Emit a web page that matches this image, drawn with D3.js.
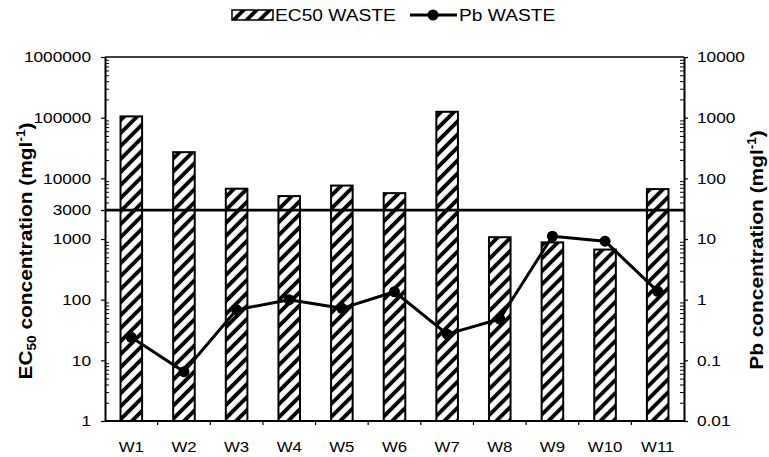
<!DOCTYPE html>
<html>
<head>
<meta charset="utf-8">
<script src="https://cdn.jsdelivr.net/npm/d3@7"></script>
<style>
  html, body { margin: 0; padding: 0; background: #fff; }
  svg { display: block; font-family: "Liberation Sans", Arial, sans-serif; }
  text { fill: #000; }
</style>
</head>
<body>
<svg id="chart" width="769" height="457"></svg>
<script>
// Samples and measured values
const categories = ["W1", "W2", "W3", "W4", "W5", "W6", "W7", "W8", "W9", "W10", "W11"];
const ec50Values = [105000, 27000, 6750, 5100, 7600, 5700, 125000, 1070, 880, 670, 6650]; // mg/l
const pbValues = [0.24, 0.065, 0.68, 1.0, 0.72, 1.35, 0.27, 0.48, 11.1, 9.2, 1.37];      // mg/l
const thresholdValue = 3000; // EC50 reference level

// Axis tick labels
const leftTicks = [1, 10, 100, 1000, 3000, 10000, 100000, 1000000];
const rightTicks = [0.01, 0.1, 1, 10, 100, 1000, 10000];

const FONT = '"Liberation Sans", Arial, sans-serif';
const svg = d3.select("#chart");
const W = 769, H = 457;
const margin = { top: 57, right: 85, bottom: 36, left: 105 };
const x0 = margin.left, x1 = W - margin.right;
const y0 = H - margin.bottom, y1 = margin.top;

const x = d3.scaleBand().domain(categories).range([x0, x1])
  .paddingInner(0.59).paddingOuter(0.295);
const yLeft = d3.scaleLog().domain([1, 1e6]).range([y0, y1]);
const yRight = d3.scaleLog().domain([0.01, 1e4]).range([y0, y1]);

// Widen text horizontally about its anchor point
function widen(sel, s) {
  sel.each(function () {
    const a = +this.getAttribute("x") || 0;
    d3.select(this).attr("transform", `translate(${a * (1 - s)},0) scale(${s},1)`);
  });
}

// Diagonal hatch fill for the EC50 bars
const defs = svg.append("defs");
const hatch = defs.append("pattern")
  .attr("id", "hatch")
  .attr("patternUnits", "userSpaceOnUse")
  .attr("width", 9.2).attr("height", 9.2)
  .attr("patternTransform", "rotate(45)");
hatch.append("rect").attr("width", 9.2).attr("height", 9.2).attr("fill", "#fff");
hatch.append("line")
  .attr("x1", 4.6).attr("y1", 0).attr("x2", 4.6).attr("y2", 9.2)
  .attr("stroke", "#000").attr("stroke-width", 3.9);

// Bars
svg.append("g").selectAll("rect")
  .data(categories.map((c, i) => ({ c, v: ec50Values[i] })))
  .join("rect")
  .attr("x", d => x(d.c))
  .attr("y", d => yLeft(d.v))
  .attr("width", x.bandwidth())
  .attr("height", d => yLeft(1) - yLeft(d.v))
  .attr("fill", "url(#hatch)")
  .attr("stroke", "#000")
  .attr("stroke-width", 2);

// Threshold line at 3000
svg.append("line")
  .attr("x1", x0).attr("x2", x1)
  .attr("y1", yLeft(thresholdValue)).attr("y2", yLeft(thresholdValue))
  .attr("stroke", "#000").attr("stroke-width", 2.7);

// Top frame line
svg.append("line")
  .attr("x1", x0).attr("x2", x1)
  .attr("y1", yLeft(1e6)).attr("y2", yLeft(1e6))
  .attr("stroke", "#000").attr("stroke-width", 1.6);

// Minor log ticks (2..9 per decade)
const minorLeft = [];
for (let e = 0; e < 6; e++) for (let k = 2; k <= 9; k++) minorLeft.push(k * Math.pow(10, e));
const minorRight = [];
for (let e = -2; e < 4; e++) for (let k = 2; k <= 9; k++) minorRight.push(+(k * Math.pow(10, e)).toPrecision(3));

function styleAxis(g, width) {
  g.attr("font-family", FONT);
  g.select(".domain").attr("stroke-width", width).attr("stroke", "#000");
  g.selectAll(".tick line").attr("stroke", "#000").attr("stroke-width", 1.2);
}

svg.append("g").attr("transform", `translate(${x0},0)`)
  .call(d3.axisLeft(yLeft).tickValues(minorLeft).tickSize(-4).tickSizeOuter(0).tickFormat(""))
  .call(g => { g.select(".domain").remove(); g.selectAll(".tick line").attr("stroke", "#000").attr("stroke-width", 1); });

svg.append("g").attr("transform", `translate(${x1},0)`)
  .call(d3.axisRight(yRight).tickValues(minorRight).tickSize(-4).tickSizeOuter(0).tickFormat(""))
  .call(g => { g.select(".domain").remove(); g.selectAll(".tick line").attr("stroke", "#000").attr("stroke-width", 1); });

// Left axis
svg.append("g").attr("transform", `translate(${x0},0)`)
  .call(d3.axisLeft(yLeft).tickValues(leftTicks).tickFormat(d3.format("d"))
    .tickSize(4).tickSizeOuter(0).tickPadding(10))
  .call(g => styleAxis(g, 2))
  .call(g => g.selectAll(".tick text").attr("font-size", 15).call(widen, 1.15));

// Right axis
svg.append("g").attr("transform", `translate(${x1},0)`)
  .call(d3.axisRight(yRight).tickValues(rightTicks).tickFormat(d3.format("~g"))
    .tickSize(4).tickSizeOuter(0).tickPadding(9))
  .call(g => styleAxis(g, 2))
  .call(g => g.selectAll(".tick text").attr("font-size", 15).call(widen, 1.15));

// Bottom axis: category labels, ticks at category boundaries
svg.append("g").attr("transform", `translate(0,${y0})`)
  .call(d3.axisBottom(x).tickSize(0).tickSizeOuter(0).tickPadding(20))
  .call(g => styleAxis(g, 2))
  .call(g => g.select(".domain").attr("d", `M${x0},0H${x1}`))
  .call(g => g.selectAll(".tick text").attr("font-size", 15).call(widen, 1.12));

svg.append("g").selectAll("line")
  .data(categories.slice(1))
  .join("line")
  .attr("x1", d => x(d) + x.bandwidth() / 2 - x.step() / 2)
  .attr("x2", d => x(d) + x.bandwidth() / 2 - x.step() / 2)
  .attr("y1", y0).attr("y2", y0 + 4)
  .attr("stroke", "#000").attr("stroke-width", 1.2);

// Pb series (right axis)
const pbPts = categories.map((c, i) => [x(c) + x.bandwidth() / 2, yRight(pbValues[i])]);
svg.append("path")
  .attr("d", d3.line()(pbPts))
  .attr("fill", "none").attr("stroke", "#000").attr("stroke-width", 3)
  .attr("stroke-linejoin", "round");
svg.append("g").selectAll("circle")
  .data(pbPts)
  .join("circle")
  .attr("cx", d => d[0]).attr("cy", d => d[1]).attr("r", 5.5)
  .attr("fill", "#000");

// Axis titles
const leftTitle = svg.append("g").attr("transform", "translate(26,251) rotate(-90)")
  .append("text").attr("text-anchor", "middle").attr("dy", "0.35em")
  .attr("font-size", 18.5).attr("font-weight", "bold").call(widen, 1.13);
leftTitle.append("tspan").text("EC");
leftTitle.append("tspan").attr("font-size", 12).attr("dy", 4).text("50");
leftTitle.append("tspan").attr("dy", -4).text(" concentration (mgl");
leftTitle.append("tspan").attr("font-size", 12).attr("dy", -7).text("-1");
leftTitle.append("tspan").attr("dy", 7).text(")");

const rightTitle = svg.append("g").attr("transform", "translate(757,250) rotate(-90)")
  .append("text").attr("text-anchor", "middle").attr("dy", "0.35em")
  .attr("font-size", 18.5).attr("font-weight", "bold").call(widen, 1.13);
rightTitle.append("tspan").text("Pb concentration (mgl");
rightTitle.append("tspan").attr("font-size", 12).attr("dy", -7).text("-1");
rightTitle.append("tspan").attr("dy", 7).text(")");

// Legend
const legend = svg.append("g");
legend.append("rect")
  .attr("x", 232).attr("y", 10).attr("width", 41).attr("height", 10)
  .attr("fill", "url(#hatch)").attr("stroke", "#000").attr("stroke-width", 1.5);
legend.append("text").attr("x", 275).attr("y", 21.5)
  .attr("font-size", 17).text("EC50 WASTE").call(widen, 1.13);
legend.append("line").attr("x1", 410).attr("x2", 457).attr("y1", 15).attr("y2", 15)
  .attr("stroke", "#000").attr("stroke-width", 3);
legend.append("circle").attr("cx", 433).attr("cy", 15).attr("r", 5.5).attr("fill", "#000");
legend.append("text").attr("x", 459).attr("y", 21.5)
  .attr("font-size", 17).text("Pb WASTE").call(widen, 1.13);
</script>
</body>
</html>
